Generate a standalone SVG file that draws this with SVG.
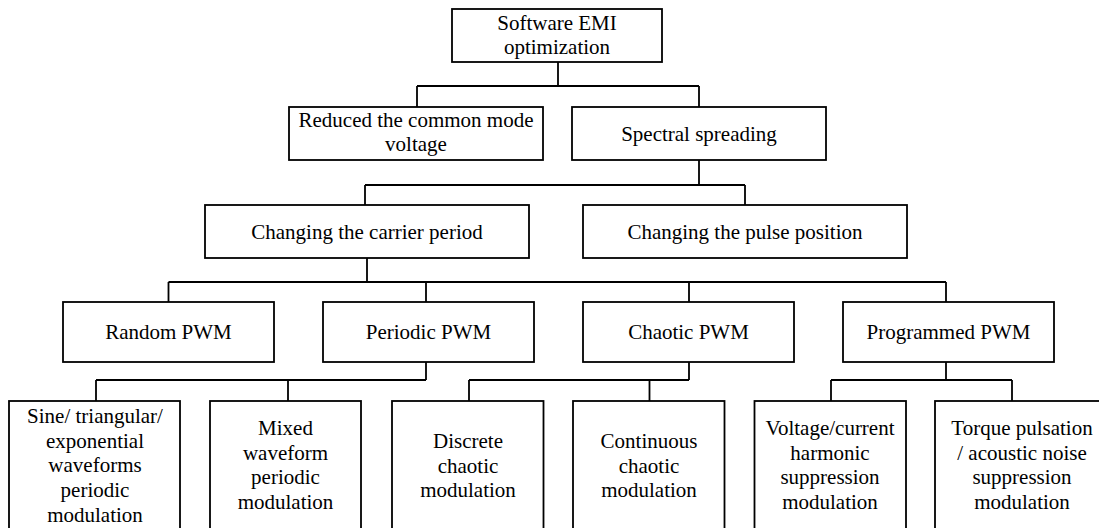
<svg xmlns="http://www.w3.org/2000/svg" width="1099" height="528" viewBox="0 0 1099 528">
<style>
.box{fill:#fff;stroke:#000;stroke-width:1.8}
.lbl{font-family:'Liberation Serif',Tinos,'Times New Roman',Times,serif;font-size:21px;fill:#000;text-anchor:middle}
.con{fill:none;stroke:#000;stroke-width:1.8}
</style>
<rect width="1099" height="528" fill="#fff"/>
<g id="connectors" class="con">
<path d="M558,62V86M417,86H699M417,86V107M699,86V107"/>
<path d="M699,160V185M365,185H745M365,185V205M745,185V205"/>
<path d="M367,258V282M168.5,282H946M168.5,282V302M426,282V302M689,282V302M946,282V302"/>
<path d="M426,362V380M96,380H426M96,380V401M288,380V401"/>
<path d="M689,362V380M469,380H689M469,380V401M649.5,380V401"/>
<path d="M946,362V380M831,380H1012M831,380V401M1012,380V401"/>
</g>
<g id="n-root"><rect class="box" x="452" y="9" width="210" height="53"/><text class="lbl" font-family="Liberation Serif, serif" x="557" y="30">Software EMI</text><text class="lbl" font-family="Liberation Serif, serif" x="557" y="53.5">optimization</text></g>
<g id="n-reduced"><rect class="box" x="289" y="107" width="254" height="53"/><text class="lbl" x="416" y="127">Reduced the common mode</text><text class="lbl" x="416" y="151">voltage</text></g>
<g id="n-spectral"><rect class="box" x="572" y="107" width="254" height="53"/><text class="lbl" x="699" y="141">Spectral spreading</text></g>
<g id="n-carrier"><rect class="box" x="205" y="205" width="324" height="53"/><text class="lbl" x="367" y="239">Changing the carrier period</text></g>
<g id="n-pulse"><rect class="box" x="583" y="205" width="324" height="53"/><text class="lbl" x="745" y="239">Changing the pulse position</text></g>
<g id="n-random"><rect class="box" x="63" y="302" width="211" height="60"/><text class="lbl" x="168.5" y="339">Random PWM</text></g>
<g id="n-periodic"><rect class="box" x="323" y="302" width="211" height="60"/><text class="lbl" x="428.5" y="339">Periodic PWM</text></g>
<g id="n-chaotic"><rect class="box" x="583" y="302" width="211" height="60"/><text class="lbl" x="688.5" y="339">Chaotic PWM</text></g>
<g id="n-programmed"><rect class="box" x="843" y="302" width="211" height="60"/><text class="lbl" x="948.5" y="339">Programmed PWM</text></g>
<g id="n-sine"><rect class="box" x="9" y="401" width="171" height="135"/><text class="lbl"><tspan x="95" y="423">Sine/ triangular/</tspan><tspan x="95" y="447.7">exponential</tspan><tspan x="95" y="472.4">waveforms</tspan><tspan x="95" y="497.1">periodic</tspan><tspan x="95" y="521.8">modulation</tspan></text></g>
<g id="n-mixed"><rect class="box" x="210" y="401" width="151" height="135"/><text class="lbl"><tspan x="285.5" y="435">Mixed</tspan><tspan x="285.5" y="459.7">waveform</tspan><tspan x="285.5" y="484.4">periodic</tspan><tspan x="285.5" y="509.1">modulation</tspan></text></g>
<g id="n-discrete"><rect class="box" x="392" y="401" width="151.5" height="135"/><text class="lbl"><tspan x="468" y="448">Discrete</tspan><tspan x="468" y="472.7">chaotic</tspan><tspan x="468" y="497.4">modulation</tspan></text></g>
<g id="n-continuous"><rect class="box" x="573" y="401" width="151.5" height="135"/><text class="lbl"><tspan x="649" y="448">Continuous</tspan><tspan x="649" y="472.7">chaotic</tspan><tspan x="649" y="497.4">modulation</tspan></text></g>
<g id="n-voltage"><rect class="box" x="754.5" y="401" width="151.5" height="135"/><text class="lbl"><tspan x="830" y="435">Voltage/current</tspan><tspan x="830" y="459.7">harmonic</tspan><tspan x="830" y="484.4">suppression</tspan><tspan x="830" y="509.1">modulation</tspan></text></g>
<g id="n-torque"><rect class="box" x="935" y="401" width="175" height="135"/><text class="lbl"><tspan x="1022" y="435">Torque pulsation</tspan><tspan x="1022" y="459.7">/ acoustic noise</tspan><tspan x="1022" y="484.4">suppression</tspan><tspan x="1022" y="509.1">modulation</tspan></text></g>
</svg>
